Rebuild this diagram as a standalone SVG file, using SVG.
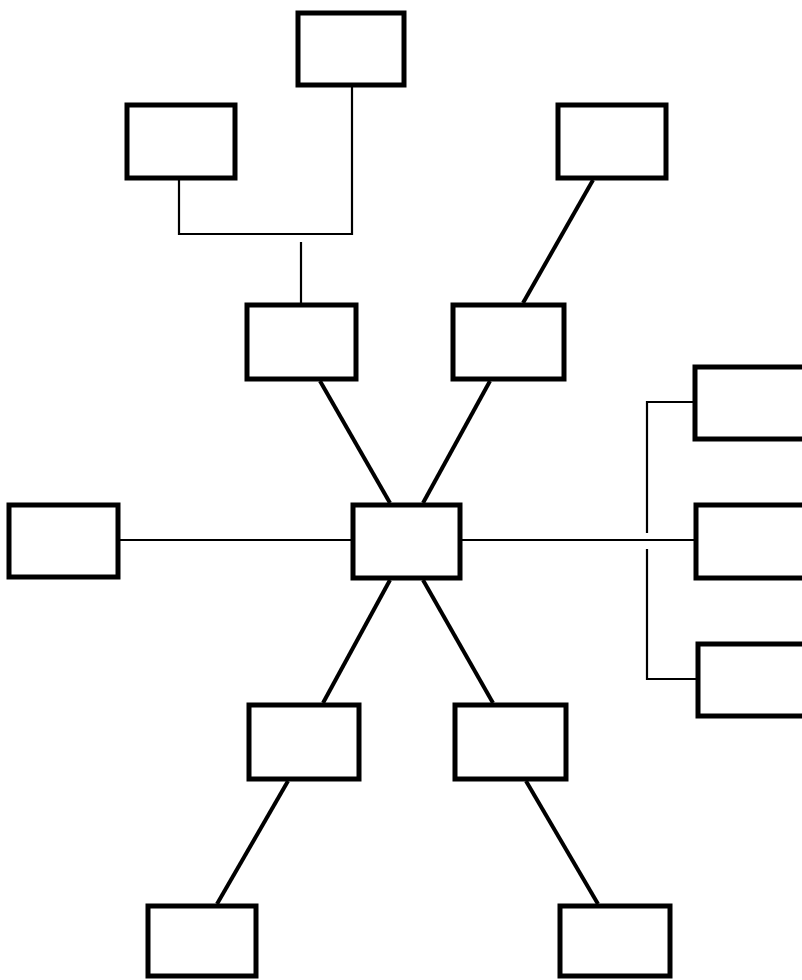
<svg xmlns="http://www.w3.org/2000/svg" width="802" height="980" viewBox="0 0 802 980">
<style>
.box{fill:#fff;stroke:#000;stroke-width:5}
.thin{fill:none;stroke:#000;stroke-width:2.2}
.thick{fill:none;stroke:#000;stroke-width:4}
</style>
<rect width="802" height="980" fill="#fff"/>
<g id="connectors">
<polyline class="thin" points="179,180 179,234 352,234 352,87"/>
<line class="thin" x1="301" y1="242" x2="301" y2="303"/>
<line class="thick" x1="593" y1="180" x2="523" y2="303"/>
<line class="thick" x1="320" y1="381" x2="390" y2="503"/>
<line class="thick" x1="490" y1="381" x2="423" y2="503"/>
<line class="thin" x1="120" y1="540" x2="351" y2="540"/>
<line class="thin" x1="462" y1="540" x2="694" y2="540"/>
<polyline class="thin" points="693,402 647,402 647,533"/>
<polyline class="thin" points="647,549 647,679 696,679"/>
<line class="thick" x1="390" y1="580" x2="323" y2="703"/>
<line class="thick" x1="423" y1="580" x2="493" y2="703"/>
<line class="thick" x1="288" y1="781" x2="217" y2="904"/>
<line class="thick" x1="526" y1="781" x2="598" y2="904"/>
</g>
<g id="n-top"><rect class="box" x="298" y="13" width="106" height="72"/></g>
<g id="n-topleft"><rect class="box" x="127" y="105" width="108" height="73"/></g>
<g id="n-topright"><rect class="box" x="558" y="105" width="108" height="73"/></g>
<g id="n-midleft"><rect class="box" x="247" y="305" width="109" height="74"/></g>
<g id="n-midright"><rect class="box" x="453" y="305" width="111" height="74"/></g>
<g id="n-center"><rect class="box" x="353" y="505" width="107" height="73"/></g>
<g id="n-left"><rect class="box" x="9" y="505" width="109" height="72"/></g>
<g id="n-right1"><rect class="box" x="695" y="367" width="135" height="72"/></g>
<g id="n-right2"><rect class="box" x="696" y="505" width="134" height="73"/></g>
<g id="n-right3"><rect class="box" x="698" y="644" width="132" height="72"/></g>
<g id="n-lowleft"><rect class="box" x="249" y="705" width="110" height="74"/></g>
<g id="n-lowright"><rect class="box" x="455" y="705" width="111" height="74"/></g>
<g id="n-botleft"><rect class="box" x="148" y="906" width="108" height="70"/></g>
<g id="n-botright"><rect class="box" x="560" y="906" width="110" height="70"/></g>
</svg>
